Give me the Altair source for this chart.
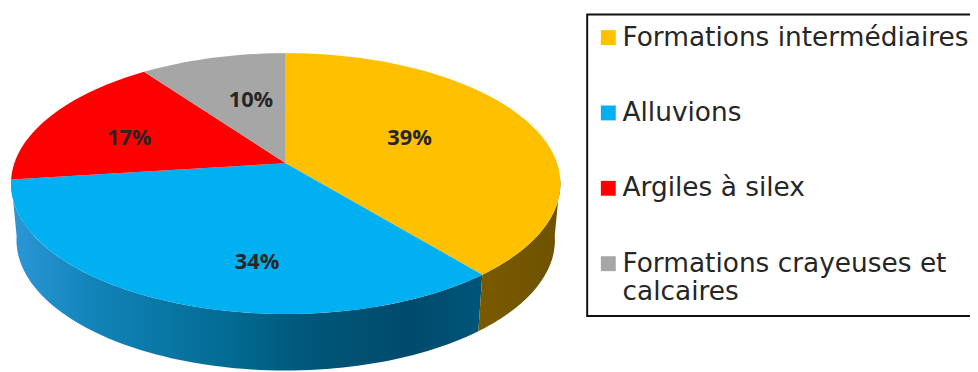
import math
import altair as alt
import pandas as pd

categories = ["Formations intermédiaires", "Alluvions", "Argiles à silex", "Formations crayeuses et calcaires"]
shares = [39, 34, 17, 10]
colors = ["#FFC000", "#00B0F0", "#FF0000", "#A6A6A6"]
label_radius = [0.512, 0.701, 0.628, 0.558]
label_turn = [-3.3, -13.9, -4.7, 3.6]

W, H = 970, 364
CX, CY = 280, 155       # apex of the pie in chart pixels
A, B, K = 273.6, 128.3, 0.156
DEPTH = 57


def project(deg, r=1.0, shrink=1.0, drop=0.0):
    t = math.radians(deg)
    u, v = r * math.sin(t), r * math.cos(t)
    d = 1 + K * v
    return CX + shrink * A * u / d, CY - B * v / d + drop


starts, total = [], 0
for s in shares:
    starts.append(total)
    total += s
to_deg = lambda p: p * 3.6

rows = []
for name, s0, s in zip(categories, starts, shares):
    a0, a1 = to_deg(s0), to_deg(s0 + s)
    x, y = project(0, 0)
    rows.append({"name": name, "i": 0, "x": x, "y": y})
    n = max(4, int(s * 2))
    for j in range(n + 1):
        x, y = project(a0 + (a1 - a0) * j / n)
        rows.append({"name": name, "i": j + 1, "x": x, "y": y})
top = pd.DataFrame(rows)


def wall(a0, a1):
    pts = []
    n = 80
    for j in range(n + 1):
        pts.append(project(a0 + (a1 - a0) * j / n))
    for j in range(n, -1, -1):
        pts.append(project(a0 + (a1 - a0) * j / n, shrink=0.98, drop=DEPTH))
    return pd.DataFrame([{"i": i, "x": p[0], "y": p[1]} for i, p in enumerate(pts)])


x_enc = alt.X("x:Q", scale=alt.Scale(domain=[0, W], nice=False, zero=False), axis=None)
y_enc = alt.Y("y:Q", scale=alt.Scale(domain=[H, 0], nice=False, zero=False), axis=None)

blue_wall = alt.Gradient(gradient="linear", x1=0, y1=0, x2=1, y2=0, stops=[
    alt.GradientStop(color="#2C97D6", offset=0),
    alt.GradientStop(color="#1183B8", offset=0.18),
    alt.GradientStop(color="#036C94", offset=0.45),
    alt.GradientStop(color="#00587A", offset=0.62),
    alt.GradientStop(color="#004A6C", offset=0.85),
    alt.GradientStop(color="#00557A", offset=1),
])
gold_wall = alt.Gradient(gradient="linear", x1=0, y1=0, x2=1, y2=0, stops=[
    alt.GradientStop(color="#7A5A00", offset=0),
    alt.GradientStop(color="#6E5200", offset=1),
])

wall_blue = alt.Chart(wall(to_deg(39), to_deg(73))).mark_line(fill=blue_wall, strokeWidth=0).encode(
    x=x_enc, y=y_enc, order="i:Q")
wall_gold = alt.Chart(wall(97, to_deg(39))).mark_line(fill=gold_wall, strokeWidth=0).encode(
    x=x_enc, y=y_enc, order="i:Q")

legend = alt.Legend(
    title=None, orient="none", legendX=584, legendY=5,
    strokeColor="#111111", symbolType="square", symbolSize=225, symbolStrokeWidth=0,
    labelFont="DejaVu Sans", labelFontSize=26.6, labelColor="#262626", labelLimit=500,
    rowPadding=49, padding=10, labelOffset=1, symbolOffset=-2,
    labelExpr="datum.label == 'Formations crayeuses et calcaires' ? ['Formations crayeuses et', 'calcaires'] : datum.label",
)
faces = alt.Chart(top).mark_line(strokeWidth=0, filled=False).encode(
    x=x_enc, y=y_enc, order="i:Q",
    fill=alt.Fill("name:N", sort=categories, scale=alt.Scale(domain=categories, range=colors), legend=legend),
)

lab_rows = []
for s0, s, r, turn in zip(starts, shares, label_radius, label_turn):
    x, y = project(to_deg(s0 + s / 2) + turn, r)
    lab_rows.append({"x": x, "y": y, "text": f"{s}%"})
labels = alt.Chart(pd.DataFrame(lab_rows)).mark_text(
    font="Open Sans", fontWeight="bold", fontSize=22, color="#262626", align="center", baseline="middle"
).encode(x=x_enc, y=y_enc, text="text:N")

chart = alt.layer(wall_blue, wall_gold, faces, labels).properties(
    width=W, height=H, padding=0, autosize=alt.AutoSizeParams(type="none", contains="content")
).configure_view(stroke=None).configure_legend(strokeWidth=2)

chart.save("out.html", embed_options={"renderer": "svg", "actions": False})
